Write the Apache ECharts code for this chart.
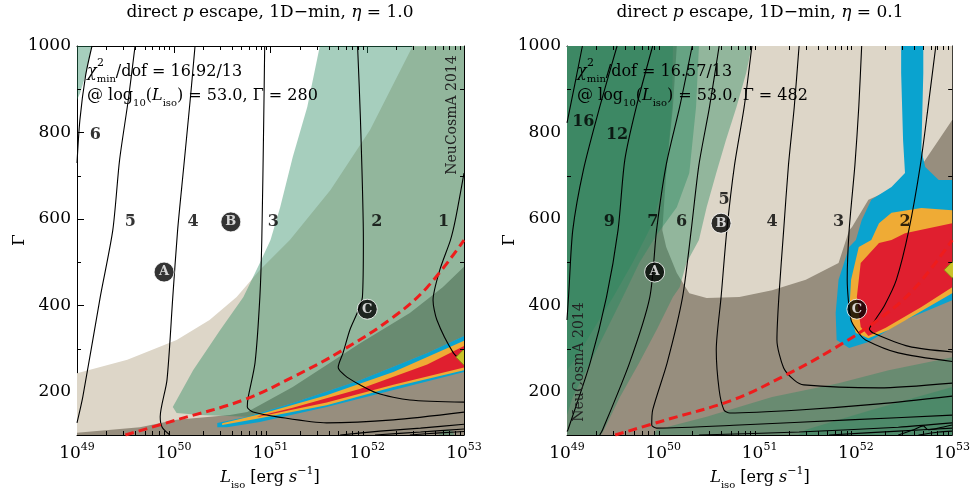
<!DOCTYPE html>
<html><head><meta charset="utf-8">
<script src="https://cdn.jsdelivr.net/npm/echarts@6/dist/echarts.min.js"></script>
<style>html,body{margin:0;padding:0;background:#fff}#c{width:973px;height:498px}</style>
</head><body><div id="c"></div>
<script>
// ---------- axis ticks ----------
const xMajor = [49, 50, 51, 52, 53];
const yMajor = [200, 400, 600, 800, 1000];
const yMinor = [300, 500, 700, 900];

// ---------- shared: red dashed line (log10 L, Gamma) ----------
const redDash = [[49.5,100],[50.03,135],[50.72,181],[51.23,234],[51.75,297],[52.27,373],[52.62,442],[53,551]];

// ---------- LEFT panel (eta = 1.0) ----------
const L_beige = [[49,100],[49,243],[49.52,274],[50.03,320],[50.37,366],[50.65,419],[50.89,482],[51.2,551],[51.62,667],[52.03,806],[52.47,1000],[53,1000],[53,100]];
const L_taupe = [[49,100],[49,105],[49.65,118],[50.03,135],[50.58,146],[50.76,153],[51.23,211],[51.93,313],[52.44,382],[52.78,442],[53,489],[53,100]];
const L_green = [[51.51,1000],[51.38,859],[51.23,743],[51.1,627],[51.0,551],[50.89,498],[50.72,419],[50.48,343],[50.2,250],[49.99,165],[50.03,151],[50.27,146],[50.76,142],[51.23,174],[51.93,227],[52.62,290],[53,329],[53,1000]];
const L_greenCorner = [[49,1000],[49.15,1000],[49.09,933],[49.03,890],[49,875]];
const L_greenBlob = [[52.74,100],[52.78,110],[52.83,113],[52.88,109],[52.9,100]];
const L_blue = [[50.45,128],[50.76,142],[51.23,174],[51.93,227],[52.62,290],[53,329],[53,246],[52.27,204],[51.58,165],[50.89,130],[50.55,118],[50.45,118]];
const L_orange = [[50.5,127],[50.89,148],[51.58,192],[52.27,246],[53,318],[53,250],[52.27,211],[51.58,169],[50.89,139],[50.5,123]];
const L_red = [[50.86,143],[51.23,163],[51.93,207],[52.62,263],[53,306],[53,256],[52.27,216],[51.58,175],[50.89,143]];
const L_best = [53, 280];
const L_lines = [
  [[49.155,1000],[49.09,933],[49.03,829],[49,729]],
  [[49.6,1000],[49.53,875],[49.44,736],[49.37,574],[49.24,419],[49.06,188],[49,128]],
  [[50.22,1000],[50.17,875],[50.1,713],[50.04,574],[49.99,419],[49.93,227],[49.86,142],[49.88,118],[49.96,100]],
  [[50.94,1000],[50.93,829],[50.91,551],[50.89,419],[50.84,267],[50.77,188],[50.76,165],[50.82,153],[51.07,142],[51.58,128],[52.27,135],[53,153]],
  [[51.9,1000],[51.93,829],[51.96,551],[51.95,419],[51.82,343],[51.75,290],[51.7,257],[51.79,234],[52.1,197],[52.44,181],[53,176]],
  [[53,706],[52.91,597],[52.86,551],[52.75,482],[52.68,412],[52.72,366],[52.89,290],[53,267]],
  [[51.72,100],[52.13,109],[52.55,116],[53,125]],
  [[52.08,100],[52.55,107],[53,114]],
  [[52.44,100],[52.75,105],[53,108]]
];
const L_numText = ['6','5','4','3','2','1'];
const L_numPos = [[49.19,794],[49.55,593],[50.2,593],[51.03,593],[52.1,593],[52.79,593]];
const L_circText = ['A','B','C'];
const L_circPos = [[49.9,477],[50.59,593],[52.0,391]];

// ---------- RIGHT panel (eta = 0.1) ----------
const R_beige = [[50.14,1000],[53,1000],[53,829],[52.65,713],[52.47,678],[52.13,644],[51.96,581],[51.93,574],[51.82,498],[51.48,459],[51.13,435],[50.79,419],[50.45,417],[50.27,428],[50.14,475],[50.03,535],[49.99,574],[50.03,706],[50.1,859]];
const R_blue = [[52.47,1000],[52.7,1000],[52.7,937],[52.68,759],[52.72,720],[52.86,690],[53,690],[53,412],[52.51,366],[52.13,315],[51.93,301],[51.8,320],[51.79,382],[51.82,459],[51.93,535],[52.0,551],[52.06,597],[52.16,644],[52.37,674],[52.51,706],[52.49,782],[52.47,937]];
const R_orange = [[53,620],[52.68,625],[52.37,614],[52.24,590],[52.16,551],[52.03,535],[51.95,459],[51.93,382],[52.0,336],[52.13,324],[52.34,343],[53,428]];
const R_red = [[53,590],[52.51,567],[52.37,551],[52.24,544],[52.05,498],[52.01,419],[52.05,350],[52.13,329],[52.31,348],[52.68,396],[53,442]];
const R_G1 = [[50.92,1000],[50.86,937],[50.76,859],[50.65,782],[50.55,706],[50.45,627],[50.37,551],[50.24,498],[50.17,442],[50.1,419],[49.93,343],[49.75,267],[49.55,188],[49.37,105],[49.35,100],[49,100],[49,1000]];
const R_G2 = [[50.37,1000],[50.34,859],[50.27,706],[50.14,627],[49.93,563],[49.75,498],[49.58,419],[49.41,343],[49.24,267],[49.06,188],[49,146],[49,1000]];
const R_G3 = [[50.1,1000],[50.09,859],[50.03,706],[49.89,590],[49.68,498],[49.48,419],[49.27,343],[49.1,280],[49,250],[49,1000]];
const R_GB1 = [[49.9,100],[49.93,112],[50.45,142],[51.13,188],[51.82,220],[52.34,250],[53,280],[53,100]];
const R_GB2 = [[51.4,100],[51.48,112],[52.16,158],[53,211],[53,100]];
const R_best = [53, 482];
const R_lines = [
  [[49.16,1000],[49.08,910],[49,822]],
  [[49.52,1000],[49.34,859],[49.17,713],[49.06,574],[49.02,435],[49,366]],
  [[49.89,1000],[49.72,859],[49.6,736],[49.53,574],[49.41,419],[49.24,267],[49.01,112],[49,108]],
  [[50.3,1000],[50.17,859],[50.03,725],[49.93,574],[49.86,419],[49.65,267],[49.37,112],[49.34,100]],
  [[50.58,1000],[50.48,859],[50.37,725],[50.29,574],[50.2,419],[50.04,267],[49.89,158],[49.88,123],[49.93,116],[50.79,123],[51.93,135],[53,146]],
  [[50.92,1000],[50.84,859],[50.74,725],[50.66,574],[50.6,419],[50.55,297],[50.58,204],[50.63,158],[50.69,151],[51.41,158],[52.24,172],[53,190]],
  [[51.41,1000],[51.36,859],[51.3,725],[51.25,574],[51.2,419],[51.18,320],[51.25,255],[51.36,227],[51.46,216],[52.24,209],[53,220]],
  [[52.06,1000],[52.03,859],[51.99,725],[51.93,574],[51.91,459],[51.95,366],[52.03,336],[52.1,320],[52.44,290],[53,270]],
  [[52.83,1000],[52.75,859],[52.67,725],[52.55,574],[52.42,459],[52.3,401],[52.2,366],[52.14,345],[52.18,336],[52.55,305],[53,292]],
  [[50.37,100],[51.41,107],[52.44,118],[53,128]],
  [[51.72,100],[52.44,109],[53,116]],
  [[52.44,100],[52.6,112],[52.7,121],[52.75,112],[52.86,116],[53,123]],
  [[52.65,100],[52.86,107],[53,109]]
];
const R_numText = ['16','12','9','7','6','5','4','3','2'];
const R_numPos = [[49.17,824],[49.52,794],[49.44,593],[49.89,593],[50.19,593],[50.63,644],[51.13,593],[51.82,593],[52.51,593]];
const R_circText = ['A','B','C'];
const R_circPos = [[49.91,477],[50.6,590],[52.01,391]];

// ---------- styling / building ----------
const SERIF = 'DejaVu Serif';
const C_BEIGE = '#ddd6c8', C_TAUPE = '#978e7e', C_GREEN = 'rgba(39,137,95,0.41)';
const C_BLUE = '#0aa3cf', C_ORANGE = '#efab35', C_RED = '#e01f2f';

function poly(pts, fill, ai, z) {
  return {type:'custom', xAxisIndex:ai, yAxisIndex:ai, z:z, silent:true, clip:true,
    data:[[pts[0][0], pts[0][1]]],
    renderItem:(p, api) => ({type:'polygon', shape:{points: pts.map(q => api.coord(q))}, style:{fill:fill}})};
}
function contour(pts, ai) {
  return {type:'line', xAxisIndex:ai, yAxisIndex:ai, data:pts, symbol:'none', smooth:0.25, z:6, silent:true,
    lineStyle:{color:'#000', width:1.1}};
}
function dashed(ai) {
  return {type:'line', xAxisIndex:ai, yAxisIndex:ai, data:redDash, symbol:'none', smooth:0.4, z:7, silent:true,
    lineStyle:{color:'#ee1c1c', width:3, type:[9,5]}};
}
function best(pt, ai) {
  return {type:'custom', xAxisIndex:ai, yAxisIndex:ai, z:8, silent:true, clip:true, data:[pt],
    renderItem:(p, api) => { const c = api.coord([api.value(0), api.value(1)]); const r = 8;
      return {type:'polygon', shape:{points:[[c[0],c[1]-r],[c[0]+r,c[1]],[c[0],c[1]+r],[c[0]-r,c[1]]]},
        style:{fill:'#c9c42a', stroke:'#8d8a12', lineWidth:1}}; }};
}
function nums(pos, txt, ai) {
  return {type:'scatter', xAxisIndex:ai, yAxisIndex:ai, z:9, silent:true, symbolSize:0,
    data: pos.map((p,i) => ({value:p, label:{formatter:txt[i]}})),
    label:{show:true, position:'inside', color:'#000', fontFamily:SERIF, fontWeight:'bold', fontSize:16}};
}
function circs(pos, txt, ai) {
  return {type:'scatter', xAxisIndex:ai, yAxisIndex:ai, z:9, silent:true, symbolSize:20,
    itemStyle:{color:'#000', borderColor:'#fff', borderWidth:1},
    data: pos.map((p,i) => ({value:p, label:{formatter:txt[i]}})),
    label:{show:true, position:'inside', color:'#fff', fontFamily:SERIF, fontWeight:'bold', fontSize:13}};
}
function minorTicks(ai) {
  const vals = [];
  for (let d = 49; d < 53; d++) for (let k = 2; k <= 9; k++) vals.push([d + Math.log10(k), 0]);
  yMinor.forEach(v => vals.push([null, v]));
  return {type:'custom', xAxisIndex:ai, yAxisIndex:ai, z:20, silent:true, clip:false,
    data: vals.map(v => [v[0] === null ? 51 : v[0], v[0] === null ? v[1] : 500]),
    renderItem:(p, api) => {
      const item = vals[p.dataIndex];
      const st = {stroke:'#000', lineWidth:1};
      if (item[0] !== null) {
        const b = api.coord([item[0], 100]), t = api.coord([item[0], 1000]);
        const x = Math.round(b[0]) + 0.5;
        return {type:'group', children:[
          {type:'line', shape:{x1:x, y1:b[1], x2:x, y2:b[1]-4}, style:st},
          {type:'line', shape:{x1:x, y1:t[1], x2:x, y2:t[1]+4}, style:st}]};
      } else {
        const l = api.coord([49, item[1]]), r = api.coord([53, item[1]]);
        const y = Math.round(l[1]) + 0.5;
        return {type:'group', children:[
          {type:'line', shape:{x1:l[0], y1:y, x2:l[0]+4, y2:y}, style:st},
          {type:'line', shape:{x1:r[0], y1:y, x2:r[0]-4, y2:y}, style:st}]};
      }
    }};
}

const axisLineS = {show:true, lineStyle:{color:'#000', width:1}};
function xAxes(gi) {
  return [
    {type:'value', gridIndex:gi, min:49, max:53, interval:1, position:'bottom', axisLine:axisLineS,
     axisTick:{show:true, inside:true, length:7, lineStyle:{color:'#000'}}, splitLine:{show:false},
     axisLabel:{margin:7, formatter: v => '{b|10}{s|' + v + '}',
       rich:{b:{fontFamily:SERIF, fontSize:17, color:'#000', lineHeight:24}, s:{fontFamily:SERIF, fontSize:11, color:'#000', lineHeight:12, verticalAlign:'top'}}}},
    {type:'value', gridIndex:gi, min:49, max:53, interval:1, position:'top', axisLine:axisLineS,
     axisTick:{show:true, inside:true, length:7, lineStyle:{color:'#000'}}, splitLine:{show:false}, axisLabel:{show:false}}
  ];
}
function yAxes(gi) {
  return [
    {type:'value', gridIndex:gi, min:100, max:1000, interval:100, position:'left', axisLine:axisLineS,
     axisTick:{show:true, inside:true, length:7, customValues:yMajor, lineStyle:{color:'#000'}}, splitLine:{show:false},
     axisLabel:{customValues:yMajor, margin:6, fontFamily:SERIF, fontSize:17, color:'#000', formatter: v => String(v)}},
    {type:'value', gridIndex:gi, min:100, max:1000, interval:100, position:'right', axisLine:axisLineS,
     axisTick:{show:true, inside:true, length:7, customValues:yMajor, lineStyle:{color:'#000'}}, splitLine:{show:false},
     axisLabel:{show:false}}
  ];
}

const series = [];
// left (axis index 0)
series.push(poly(L_beige, C_BEIGE, 0, 1), poly(L_taupe, C_TAUPE, 0, 1),
  poly(L_green, C_GREEN, 0, 2), poly(L_greenCorner, C_GREEN, 0, 2), poly(L_greenBlob, C_GREEN, 0, 2),
  poly(L_blue, C_BLUE, 0, 3), poly(L_orange, C_ORANGE, 0, 3), poly(L_red, C_RED, 0, 3));
L_lines.forEach(l => series.push(contour(l, 0)));
series.push(dashed(0), best(L_best, 0), nums(L_numPos, L_numText, 0), circs(L_circPos, L_circText, 0), minorTicks(0));
// right (axis index 2)
series.push(poly([[49,100],[49,1000],[53,1000],[53,100]], C_TAUPE, 2, 1), poly(R_beige, C_BEIGE, 2, 1),
  poly(R_G1, C_GREEN, 2, 2), poly(R_G2, C_GREEN, 2, 2), poly(R_G3, C_GREEN, 2, 2),
  poly(R_GB1, C_GREEN, 2, 2), poly(R_GB2, C_GREEN, 2, 2),
  poly(R_blue, C_BLUE, 2, 3), poly(R_orange, C_ORANGE, 2, 3), poly(R_red, C_RED, 2, 3));
R_lines.forEach(l => series.push(contour(l, 2)));
series.push(dashed(2), best(R_best, 2), nums(R_numPos, R_numText, 2), circs(R_circPos, R_circText, 2), minorTicks(2));

const rich = {
  i:{fontFamily:SERIF, fontStyle:'italic', fontSize:16, lineHeight:24, fill:'#000'},
  n:{fontFamily:SERIF, fontSize:16, lineHeight:24, fill:'#000'},
  t:{fontFamily:SERIF, fontSize:17, lineHeight:24, fill:'#000'},
  ti:{fontFamily:SERIF, fontStyle:'italic', fontSize:17, lineHeight:24, fill:'#000'},
  sb:{fontFamily:SERIF, fontSize:10, lineHeight:10, verticalAlign:'bottom', fill:'#000'},
  sp:{fontFamily:SERIF, fontSize:11, lineHeight:11, verticalAlign:'top', fill:'#000'}
};
function T(x, y, text, o) {
  o = o || {};
  return {type:'text', x:x, y:y, rotation:o.rot || 0, z:50, silent:true,
    style:{text:text, fill:o.fill || '#000', fontFamily:SERIF, fontSize:o.size || 16, fontWeight:o.weight || 'normal',
      textAlign:o.align || 'left', textVerticalAlign:'middle', align:o.align || 'left', verticalAlign:'middle', rich:rich}};
}
const graphics = [];
[[270, '1.0', 77, '16.92', '280'], [760, '0.1', 567, '16.57', '482']].forEach(([cx, eta, gx, chi, gam]) => {
  graphics.push(T(cx, 13, '{t|direct }{ti|p}{t| escape, 1D−min, }{ti|η}{t| = ' + eta + '}', {align:'center'}));
  graphics.push(T(cx, 478, '{i|L}{sb|iso}{n| [erg }{i|s}{sp|−1}{n|]}', {align:'center'}));
  graphics.push(T(gx + 10, 72, '{i|χ}{sb|min}{n|/dof = ' + chi + '/13}'));
  graphics.push(T(gx + 20, 63, '2', {size:11}));
  graphics.push(T(gx + 10, 96, '{n|@ log}{sb|10}{n|(}{i|L}{sb|iso}{n|) = 53.0, Γ = ' + gam + '}'));
});
graphics.push(T(20, 240, 'Γ', {rot:Math.PI/2, align:'center', size:17}));
graphics.push(T(510, 240, 'Γ', {rot:Math.PI/2, align:'center', size:17}));
graphics.push(T(452, 115, 'NeuCosmA 2014', {rot:Math.PI/2, align:'center', size:14, fill:'#222'}));
graphics.push(T(579, 362, 'NeuCosmA 2014', {rot:Math.PI/2, align:'center', size:14, fill:'#222'}));

const chart = echarts.init(document.getElementById('c'), null, {renderer:'canvas'});
chart.setOption({
  animation:false,
  backgroundColor:'#fff',
  grid:[{left:77, top:46, width:387, height:389}, {left:567, top:46, width:387, height:389}],
  xAxis:[...xAxes(0), ...xAxes(1)],
  yAxis:[...yAxes(0), ...yAxes(1)],
  series:series,
  graphic:graphics
});
</script></body></html>
